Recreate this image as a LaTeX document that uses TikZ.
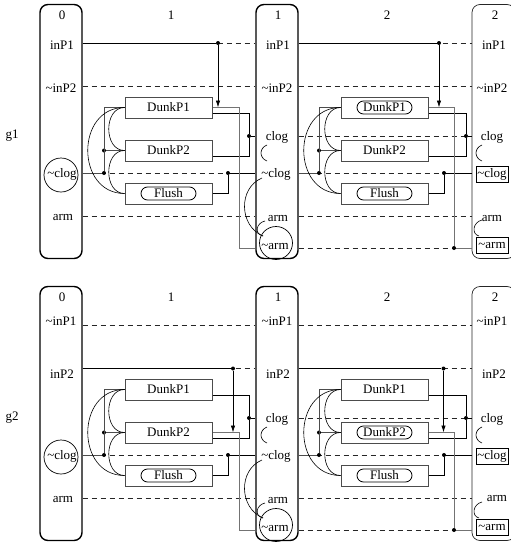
\documentclass[tikz,border=0pt]{standalone}
\usepackage{fontspec}
\setmainfont{Liberation Serif}
\usetikzlibrary{arrows.meta,calc}
\tikzset{
  levbox/.style={draw=black, line width=1.4pt, rounded corners=8pt, minimum width=42pt, minimum height=254pt, inner sep=0pt},
  levboxthin/.style={draw=black!85, line width=0.7pt, rounded corners=8pt, minimum width=43pt, minimum height=254pt, inner sep=0pt},
  act/.style={draw=black!70, line width=1pt, minimum width=87pt, minimum height=21pt, inner sep=0pt},
  lab/.style={inner sep=1pt},
  persist/.style={draw=black!85, line width=0.8pt, dash pattern=on 5pt off 4pt},
  pre/.style={draw=black!70, line width=1pt},
  eff/.style={draw=black, line width=0.8pt},
  condeff/.style={draw=black!55, line width=1pt},
  mutex/.style={draw=black, line width=0.6pt},
  dot/.style={circle, fill=black, inner sep=0pt, minimum size=4pt},
  innerr/.style={draw=black, line width=0.8pt, rounded corners=6.5pt, minimum width=55pt, minimum height=13pt, inner sep=0pt},
  factbox/.style={draw=black, line width=0.8pt, minimum width=32pt, minimum height=16pt, inner sep=0pt},
  tip/.style={-{Latex[length=7pt,width=4.5pt]}}
}
\newcommand\gcommon[1]{%
  \node[levbox] (L0#1) at (61,131.5) {};
  \node[levbox] (L1#1) at (277,131.5) {};
  \node[levboxthin] (L2#1) at (493.5,131.5) {};
  \node[lab] (n0#1) at (62,15) {0};
  \node[lab] (n01#1) at (171,15) {1};
  \node[lab] (n1#1) at (278,15) {1};
  \node[lab] (n12#1) at (387,15) {2};
  \node[lab] (n2#1) at (495,15) {2};
  \coordinate (ra#1) at (0,43);
  \coordinate (rb#1) at (0,86.5);
  \coordinate (rc#1) at (0,136);
  \coordinate (rn#1) at (0,173);
  \coordinate (rm#1) at (0,216);
  \coordinate (rv#1) at (0,248);
  % persistence
  \foreach \rr in {ra,rb,rn,rm}{\draw[persist] (L0#1.east |- \rr#1) -- (L1#1.west |- \rr#1);}
  \foreach \rr in {ra,rb,rc,rn,rm,rv}{\draw[persist] (L1#1.east |- \rr#1) -- (L2#1.west |- \rr#1);}
  % facts
  \node[lab] (x0nc#1) at (62,174) {\textasciitilde clog};
  \node[draw=black, line width=0.7pt, circle, minimum size=34pt, inner sep=0pt] (c0#1) at (61,175) {};
  \node[lab] (x0m#1) at (63,217) {arm};
  \node[lab] (x1c#1) at (277,137) {clog};
  \node[lab] (x1nc#1) at (276,174) {\textasciitilde clog};
  \node[lab] (x1m#1) at (278,218) {arm};
  \node[lab] (x1nm#1) at (275,246) {\textasciitilde arm};
  \node[draw=black, line width=0.7pt, circle, minimum size=33pt, inner sep=0pt] (c1#1) at (276,243) {};
  \node[lab] (x2c#1) at (492,137) {clog};
  \node[factbox] (x2nc#1) at (492,174) {\textasciitilde clog};
  \node[factbox] (x2nm#1) at (492,245) {\textasciitilde arm};
  % actions
  \node[act] (A1#1) at (168.5,107.5) {DunkP1};
  \node[act] (A2#1) at (168.5,150.5) {DunkP2};
  \node[act] (A3#1) at (168.5,193.5) {Flush};
  \node[act] (B1#1) at (384.5,107.5) {DunkP1};
  \node[act] (B2#1) at (384.5,150.5) {DunkP2};
  \node[act] (B3#1) at (384.5,193.5) {Flush};
  \node[innerr] (iA3#1) at (A3#1.center) {};
  \node[innerr] (iB3#1) at (B3#1.center) {};
  % preconditions
  \node[dot] (k1#1) at (104,173) {};
  \node[dot] (k2#1) at (104,150.5) {};
  \draw[pre] (L0#1.east |- k1#1) -- (k1#1);
  \draw[pre] (k1#1) -- (k1#1 |- A1#1.west) -- (A1#1.west);
  \draw[pre] (k2#1) -- (A2#1.west);
  \node[dot] (k3#1) at (319,173) {};
  \node[dot] (k4#1) at (319,150.5) {};
  \draw[pre] (L1#1.east |- k3#1) -- (k3#1);
  \draw[pre] (k3#1) -- (k3#1 |- B1#1.west) -- (B1#1.west);
  \draw[pre] (k4#1) -- (B2#1.west);
  % action mutexes
  \draw[mutex] (A1#1.west) .. controls +(-21,0) and +(-21,0) .. (A2#1.west);
  \draw[mutex] (A2#1.west) .. controls +(-21,0) and +(-21,0) .. (A3#1.west);
  \draw[mutex] (A1#1.west) .. controls +(-49,0) and +(-49,0) .. (A3#1.west);
  \draw[mutex] (B1#1.west) .. controls +(-21,0) and +(-21,0) .. (B2#1.west);
  \draw[mutex] (B2#1.west) .. controls +(-21,0) and +(-21,0) .. (B3#1.west);
  \draw[mutex] (B1#1.west) .. controls +(-49,0) and +(-49,0) .. (B3#1.west);
  % effects
  \node[dot] (e1#1) at (249,136) {};
  \draw[eff] ($(A1#1.east)+(0,5.5)$) -| (e1#1) |- ($(A2#1.east)+(0,5.5)$);
  \draw[eff] (e1#1) -- (L1#1.west |- e1#1);
  \node[dot] (f1#1) at (228,173) {};
  \draw[eff] (A3#1.east) -| (f1#1) -- (L1#1.west |- f1#1);
  \node[dot] (e2#1) at (466,136) {};
  \draw[eff] ($(B1#1.east)+(0,5.5)$) -| (e2#1) |- ($(B2#1.east)+(0,5.5)$);
  \draw[eff] (e2#1) -- (L2#1.west |- e2#1);
  \node[dot] (f2#1) at (444,173) {};
  \draw[eff] (B3#1.east) -| (f2#1) -- (L2#1.west |- f2#1);
  % fact mutexes
  \draw[mutex] (267,145) .. controls +(-8,3) and +(-8,-3) .. (267,161);
  \draw[mutex] (262,178) .. controls +(-24,10) and +(-24,-10) .. (263,236);
  \draw[mutex] (265,221) .. controls +(-9,2) and +(-9,-2) .. (263,236);
  \draw[mutex] (482,145) .. controls +(-8,3) and +(-8,-3) .. (482,161);
  \draw[mutex] (482,220) .. controls +(-9,2) and +(-8,-2) .. (479,236);
  \node[lab] (g#1) at (12,136) {g#1};
}
\begin{document}
\begin{tikzpicture}[x=1pt,y=-1pt,font=\fontsize{13}{15}\selectfont]
\useasboundingbox (0,0) rectangle (511,544);
% ---- graph g1 ----
\gcommon{1}
\node[lab] (x0a1) at (62,45) {inP1};
\node[lab] (x1a1) at (278,45) {inP1};
\node[lab] (x2a1) at (494,45) {inP1};
\node[lab] (x0b1) at (61,88) {\textasciitilde inP2};
\node[lab] (x1b1) at (277,88) {\textasciitilde inP2};
\node[lab] (x2b1) at (492,88) {\textasciitilde inP2};
\node[lab] (x2m1) at (492,218) {arm};
\node[innerr] (iB11) at (B11.center) {};
\node[dot] (p11) at (218,43) {};
\draw[eff] (L01.east |- p11) -- (p11);
\draw[eff,tip] (p11) -- (p11 |- A11.east);
\coordinate (q11) at (239,248);
\draw[condeff] (A11.east) -| (q11) -- (L11.west |- q11);
\node[dot] (p21) at (439,43) {};
\draw[eff] (L11.east |- p21) -- (p21);
\draw[eff,tip] (p21) -- (p21 |- B11.east);
\node[dot] (q21) at (454,248) {};
\draw[condeff] (B11.east) -| (q21) -- (L21.west |- q21);
% ---- graph g2 ----
\begin{scope}[shift={(0,282)}]
\gcommon{2}
\node[lab] (x0a2) at (61,39) {\textasciitilde inP1};
\node[lab] (x1a2) at (277,39) {\textasciitilde inP1};
\node[lab] (x2a2) at (492,39) {\textasciitilde inP1};
\node[lab] (x0b2) at (62,92) {inP2};
\node[lab] (x1b2) at (278,92) {inP2};
\node[lab] (x2b2) at (494,92) {inP2};
\node[lab] (x2m2) at (497,216) {arm};
\node[innerr] (iB22) at (B22.center) {};
\node[dot] (p12) at (233,86.5) {};
\draw[eff] (L02.east |- p12) -- (p12);
\draw[eff,tip] (p12) -- (p12 |- A22.east);
\coordinate (q12) at (239,248);
\draw[condeff] (A22.east) -| (q12) -- (L12.west |- q12);
\node[dot] (p22) at (443.5,86.5) {};
\draw[eff] (L12.east |- p22) -- (p22);
\draw[eff,tip] (p22) -- (p22 |- B22.east);
\node[dot] (q22) at (454,248) {};
\draw[condeff] (B22.east) -| (q22) -- (L22.west |- q22);
\end{scope}
\end{tikzpicture}
\end{document}
